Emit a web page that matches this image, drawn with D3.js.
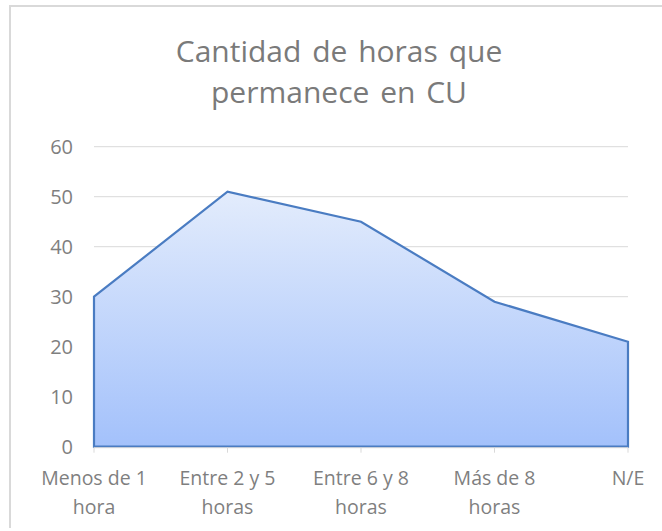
<!DOCTYPE html>
<html>
<head>
<meta charset="utf-8">
<script src="https://cdn.jsdelivr.net/npm/d3@7"></script>
<style>
  html, body { margin: 0; padding: 0; background: #fff; }
  svg text { font-family: "Open Sans", sans-serif; }
</style>
</head>
<body>
<svg id="chart" width="662" height="531"></svg>
<script>
// datos
const categories = [
  ["Menos de 1", "hora"],
  ["Entre 2 y 5", "horas"],
  ["Entre 6 y 8", "horas"],
  ["Más de 8", "horas"],
  ["N/E"]
];
const values = [30, 51, 45, 29, 21];
const yTicks = [0, 10, 20, 30, 40, 50, 60];
const titleLines = ["Cantidad de horas que", "permanece en CU"];

const svg = d3.select("#chart");
const W = 662, H = 531;

// marco del gráfico
svg.append("line").attr("x1", 9).attr("x2", W).attr("y1", 6).attr("y2", 6)
  .attr("stroke", "#d9d9d9").attr("stroke-width", 2);
svg.append("line").attr("x1", 10).attr("x2", 10).attr("y1", 6).attr("y2", 528)
  .attr("stroke", "#d9d9d9").attr("stroke-width", 2);

const x = d3.scalePoint().domain(d3.range(categories.length)).range([94, 628]);
const y = d3.scaleLinear().domain([0, 60]).range([446.7, 146.7]);

// título
svg.append("text")
  .attr("x", 339).attr("y", 62)
  .attr("text-anchor", "middle")
  .attr("fill", "#7a7a7a")
  .style("font-size", "30px")
  .style("word-spacing", "3px")
  .selectAll("tspan").data(titleLines).enter().append("tspan")
  .attr("x", 339).attr("dy", (d, i) => i === 0 ? 0 : 41)
  .text(d => d);

// líneas de cuadrícula
svg.append("g").selectAll("line").data(yTicks.filter(t => t > 0)).enter().append("line")
  .attr("x1", 94).attr("x2", 628)
  .attr("y1", d => y(d)).attr("y2", d => y(d))
  .attr("stroke", "#d9d9d9").attr("stroke-width", 1);

// eje Y
svg.append("g").selectAll("text").data(yTicks).enter().append("text")
  .attr("x", 73).attr("y", d => y(d)).attr("dy", "0.36em")
  .attr("text-anchor", "end")
  .attr("fill", "#7f7f7f")
  .style("font-size", "20px")
  .text(d => d);

// degradado
const grad = svg.append("defs").append("linearGradient")
  .attr("id", "areaGrad").attr("x1", 0).attr("x2", 0).attr("y1", 0).attr("y2", 1);
grad.append("stop").attr("offset", "0%").attr("stop-color", "#e3ecfc");
grad.append("stop").attr("offset", "100%").attr("stop-color", "#a3c1fb");

const area = d3.area()
  .x((d, i) => x(i))
  .y0(y(0))
  .y1(d => y(d));

svg.append("path")
  .datum(values)
  .attr("d", d => area(d) + "Z")
  .attr("fill", "url(#areaGrad)")
  .attr("stroke", "#4a7cc2")
  .attr("stroke-width", 2.2)
  .attr("stroke-linejoin", "miter");

// eje X
svg.append("line").attr("x1", 94).attr("x2", 628)
  .attr("y1", y(0) + 1).attr("y2", y(0) + 1)
  .attr("stroke", "#d9d9d9").attr("stroke-width", 1);
svg.append("g").selectAll("line").data(d3.range(categories.length)).enter().append("line")
  .attr("x1", d => x(d)).attr("x2", d => x(d))
  .attr("y1", y(0) + 1).attr("y2", y(0) + 6)
  .attr("stroke", "#d9d9d9").attr("stroke-width", 1);

const xl = svg.append("g").selectAll("text").data(categories).enter().append("text")
  .attr("text-anchor", "middle")
  .attr("fill", "#7f7f7f")
  .style("font-size", "19.5px")
  .attr("transform", (d, i) => `translate(${x(i)},485)`);
xl.selectAll("tspan").data(d => d).enter().append("tspan")
  .attr("x", 0).attr("dy", (d, i) => i === 0 ? 0 : 29)
  .text(d => d);
</script>
</body>
</html>
